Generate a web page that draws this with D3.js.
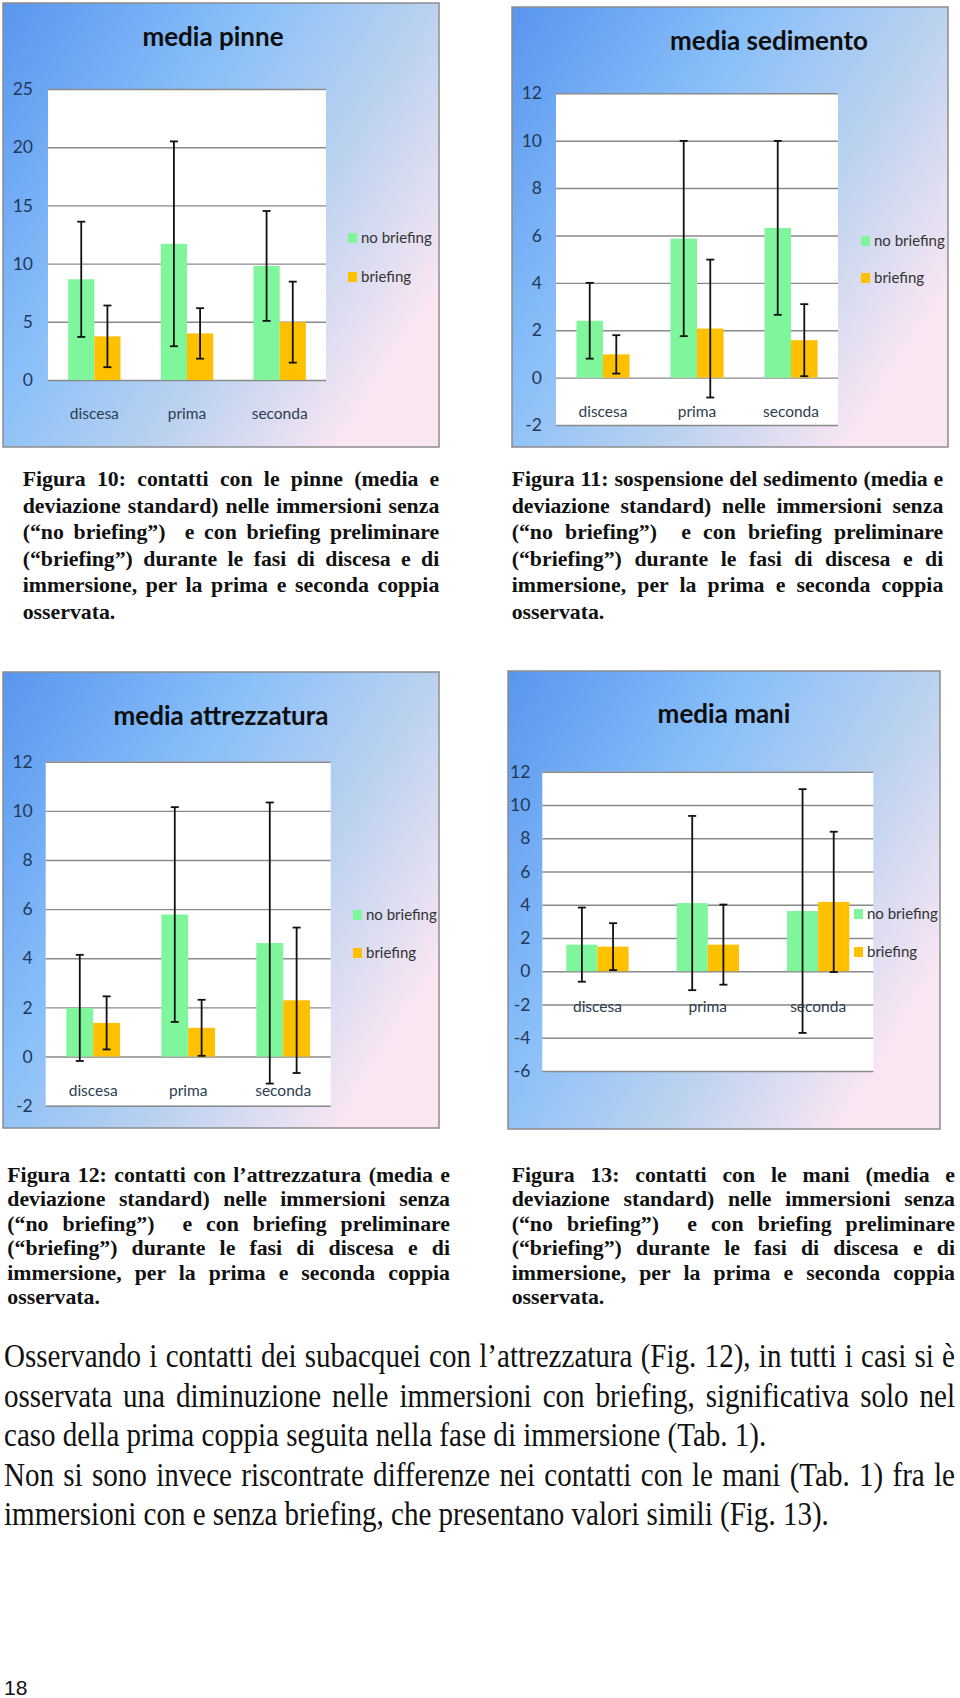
<!DOCTYPE html>
<html><head><meta charset="utf-8">
<script src="https://cdn.jsdelivr.net/npm/d3@7"></script>
<style>
html,body{margin:0;padding:0;background:#fff;}
svg{display:block;}
</style></head><body>
<svg id="page" width="960" height="1698"></svg>
<script>
// ---------- DATA ----------
const categories = ["discesa", "prima", "seconda"];
const seriesNames = ["no briefing", "briefing"];

const pinneTitle = "media pinne";
const pinneNoBriefing = [8.65, 11.7, 9.8];
const pinneNoBriefingSD = [4.95, 8.8, 4.72];
const pinneBriefing = [3.75, 4.0, 4.97];
const pinneBriefingSD = [2.65, 2.17, 3.48];
const pinneTicks = [0, 5, 10, 15, 20, 25];

const sedimentoTitle = "media sedimento";
const sedimentoNoBriefing = [2.4, 5.87, 6.32];
const sedimentoNoBriefingSD = [1.6, 4.12, 3.67];
const sedimentoBriefing = [0.98, 2.07, 1.58];
const sedimentoBriefingSD = [0.81, 2.91, 1.52];
const sedimentoTicks = [-2, 0, 2, 4, 6, 8, 10, 12];

const attrezzaturaTitle = "media attrezzatura";
const attrezzaturaNoBriefing = [1.98, 5.78, 4.62];
const attrezzaturaNoBriefingSD = [2.16, 4.37, 5.72];
const attrezzaturaBriefing = [1.37, 1.17, 2.29];
const attrezzaturaBriefingSD = [1.08, 1.14, 2.96];
const attrezzaturaTicks = [-2, 0, 2, 4, 6, 8, 10, 12];

const maniTitle = "media mani";
const maniNoBriefing = [1.6, 4.1, 3.62];
const maniNoBriefingSD = [2.23, 5.24, 7.33];
const maniBriefing = [1.48, 1.6, 4.17];
const maniBriefingSD = [1.41, 2.41, 4.22];
const maniTicks = [-6, -4, -2, 0, 2, 4, 6, 8, 10, 12];

const captionTail = [
  "deviazione standard) nelle immersioni senza",
  "(\u201cno briefing\u201d)  e con briefing preliminare",
  "(\u201cbriefing\u201d) durante le fasi di discesa e di",
  "immersione, per la prima e seconda coppia",
  "osservata."
];
const caption10 = ["Figura 10: contatti con le pinne (media e"].concat(captionTail);
const caption11 = ["Figura 11: sospensione del sedimento (media e"].concat(captionTail);
const caption12 = ["Figura 12: contatti con l\u2019attrezzatura (media e"].concat(captionTail);
const caption13 = ["Figura 13: contatti con le mani (media e"].concat(captionTail);

const bodyLines = [
  "Osservando i contatti dei subacquei con l\u2019attrezzatura (Fig. 12), in tutti i casi si \u00e8",
  "osservata una diminuzione nelle immersioni con briefing, significativa solo nel",
  "caso della prima coppia seguita nella fase di immersione (Tab. 1).",
  "Non si sono invece riscontrate differenze nei contatti con le mani (Tab. 1) fra le",
  "immersioni con e senza briefing, che presentano valori simili (Fig. 13)."
];
const bodyJustified = [true, true, false, true, false];
const pageNumber = "18";

// ---------- STYLE ----------
const GREEN = "#7ff69c", GOLD = "#ffc000";
const CHART_FONT = "Lato, 'Open Sans', sans-serif";
const SERIF = "'Liberation Serif', 'Times New Roman', serif";

const svg = d3.select("#page");
const defs = svg.append("defs");
const grad = defs.append("linearGradient").attr("id", "bg")
  .attr("x1", 0).attr("y1", 0).attr("x2", 1).attr("y2", 0.65);
[[0, "#5896ef"], [0.4, "#89bff9"], [0.7, "#bad2ef"], [1, "#fae6f3"]].forEach(s =>
  grad.append("stop").attr("offset", s[0]).attr("stop-color", s[1]));

function drawChart(cfg) {
  const g = svg.append("g");
  const [fx0, fy0, fx1, fy1] = cfg.frame;
  g.append("rect").attr("x", fx0).attr("y", fy0)
    .attr("width", fx1 - fx0).attr("height", fy1 - fy0)
    .attr("fill", "url(#bg)").attr("stroke", "#8c8c8c").attr("stroke-width", 1.5);

  const [px0, py0, px1, py1] = cfg.plot;
  const y = d3.scaleLinear().domain(d3.extent(cfg.ticks)).range([py1, py0]);
  const x0 = d3.scaleBand().domain(categories).range([px0, px1])
    .paddingInner(0.435).paddingOuter(0.2175);
  const x1 = d3.scaleBand().domain(seriesNames).range([0, x0.bandwidth()]);

  g.append("rect").attr("x", px0).attr("y", py0)
    .attr("width", px1 - px0).attr("height", py1 - py0).attr("fill", "#fff");

  const axis = d3.axisLeft(y).tickValues(cfg.ticks).tickFormat(d => String(d))
    .tickSizeInner(-(px1 - px0)).tickSizeOuter(0).tickPadding(cfg.tickPad);
  const ax = g.append("g").attr("transform", `translate(${px0},0)`).call(axis);
  ax.select(".domain").remove();
  ax.selectAll(".tick line").attr("stroke", "#8a8a8a").attr("stroke-width", 1.4);
  ax.selectAll(".tick text").attr("font-family", CHART_FONT).attr("font-size", 17.5)
    .attr("fill", "#22395a");

  const rows = categories.map((c, i) => ({
    cat: c,
    vals: [
      { s: seriesNames[0], v: cfg.noB[i], sd: cfg.noBsd[i], color: GREEN },
      { s: seriesNames[1], v: cfg.b[i], sd: cfg.bsd[i], color: GOLD }
    ]
  }));

  const grp = g.selectAll(".grp").data(rows).join("g")
    .attr("transform", d => `translate(${x0(d.cat)},0)`);
  grp.selectAll("rect").data(d => d.vals).join("rect")
    .attr("x", d => x1(d.s)).attr("width", x1.bandwidth())
    .attr("y", d => y(Math.max(0, d.v))).attr("height", d => Math.abs(y(d.v) - y(0)))
    .attr("fill", d => d.color);

  const eb = grp.selectAll(".eb").data(d => d.vals).join("g")
    .attr("transform", d => `translate(${x1(d.s) + x1.bandwidth() / 2},0)`)
    .attr("stroke", "#111").attr("stroke-width", 1.8);
  eb.append("line").attr("x1", 0).attr("x2", 0)
    .attr("y1", d => y(d.v + d.sd)).attr("y2", d => y(d.v - d.sd));
  eb.append("line").attr("x1", -4).attr("x2", 4)
    .attr("y1", d => y(d.v + d.sd)).attr("y2", d => y(d.v + d.sd));
  eb.append("line").attr("x1", -4).attr("x2", 4)
    .attr("y1", d => y(d.v - d.sd)).attr("y2", d => y(d.v - d.sd));

  g.selectAll(".cat").data(categories).join("text")
    .attr("x", d => x0(d) + x0.bandwidth() / 2).attr("y", cfg.catY)
    .attr("text-anchor", "middle").attr("font-family", CHART_FONT).attr("font-size", 15.5)
    .attr("fill", "#2e3d50").text(d => d);

  g.append("text").attr("x", cfg.titleX).attr("y", cfg.titleY)
    .attr("text-anchor", "middle").attr("font-family", CHART_FONT).attr("font-weight", 700)
    .attr("font-size", 26).attr("fill", "#0e0e0e").text(cfg.title);

  const leg = g.selectAll(".leg").data(seriesNames).join("g")
    .attr("transform", (d, i) => `translate(${cfg.legX},${cfg.legY[i]})`);
  leg.append("rect").attr("x", 0).attr("y", -5).attr("width", 9).attr("height", 10)
    .attr("fill", (d, i) => i === 0 ? GREEN : GOLD);
  leg.append("text").attr("x", 13).attr("y", 0).attr("dy", "0.35em")
    .attr("font-family", CHART_FONT).attr("font-size", 15).attr("fill", "#333")
    .text(d => d);
}

drawChart({ title: pinneTitle, ticks: pinneTicks,
  noB: pinneNoBriefing, noBsd: pinneNoBriefingSD, b: pinneBriefing, bsd: pinneBriefingSD,
  frame: [3, 3, 439, 447], plot: [48, 89, 326, 380], tickPad: 15,
  titleX: 213, titleY: 46, catY: 419, legX: 348, legY: [238, 277] });
drawChart({ title: sedimentoTitle, ticks: sedimentoTicks,
  noB: sedimentoNoBriefing, noBsd: sedimentoNoBriefingSD, b: sedimentoBriefing, bsd: sedimentoBriefingSD,
  frame: [512, 7, 948, 447], plot: [556, 93.3, 838, 425], tickPad: 14,
  titleX: 769, titleY: 50, catY: 417, legX: 861, legY: [241, 278] });
drawChart({ title: attrezzaturaTitle, ticks: attrezzaturaTicks,
  noB: attrezzaturaNoBriefing, noBsd: attrezzaturaNoBriefingSD, b: attrezzaturaBriefing, bsd: attrezzaturaBriefingSD,
  frame: [3, 672, 439, 1128], plot: [45.7, 761.7, 330.7, 1105.7], tickPad: 13,
  titleX: 221, titleY: 725, catY: 1096, legX: 353, legY: [915, 953] });
drawChart({ title: maniTitle, ticks: maniTicks,
  noB: maniNoBriefing, noBsd: maniNoBriefingSD, b: maniBriefing, bsd: maniBriefingSD,
  frame: [508, 671, 940, 1129], plot: [542.3, 771.7, 873.3, 1071], tickPad: 12,
  titleX: 724, titleY: 723, catY: 1012, legX: 854, legY: [914, 952] });

// ---------- TEXT ----------
function paragraph(lines, justified, x, right, y0, pitch, size, weight, sx) {
  const g = svg.append("g").attr("transform", `translate(${x},0) scale(${sx},1)`);
  const width = (right - x) / sx;
  lines.forEach((t, i) => {
    const el = g.append("text").attr("x", 0).attr("y", y0 + i * pitch)
      .attr("font-family", SERIF).attr("font-size", size).attr("font-weight", weight)
      .attr("fill", "#111").style("white-space", "pre").text(t);
    if (justified[i]) {
      const nat = el.node().getComputedTextLength();
      const gaps = (t.match(/ /g) || []).length;
      if (gaps > 0) el.style("word-spacing", ((width - nat) / gaps) + "px");
    }
  });
}
const capJust = [true, true, true, true, true, false];
paragraph(caption10, capJust, 22.7, 439.3, 486, 26.6, 21.8, 700, 1);
paragraph(caption11, capJust, 511.7, 943.3, 486, 26.6, 21.8, 700, 1);
paragraph(caption12, capJust, 7.3, 450, 1181.5, 24.5, 21.8, 700, 1);
paragraph(caption13, capJust, 511.7, 955, 1181.5, 24.5, 21.8, 700, 1);

// body: measure condensation so justified lines fit
(function () {
  const size = 33;
  const tmp = svg.append("text").attr("font-family", SERIF).attr("font-size", size)
    .style("white-space", "pre");
  let s = 0.88;
  bodyLines.forEach((t, i) => {
    if (!bodyJustified[i]) return;
    tmp.text(t);
    s = Math.min(s, 951 / tmp.node().getComputedTextLength() * 0.99);
  });
  tmp.remove();
  paragraph(bodyLines, bodyJustified, 4, 955, 1367, 39.6, size, 400, s);
})();

svg.append("text").attr("x", 4).attr("y", 1695)
  .attr("font-family", "'Liberation Sans', Arial, sans-serif").attr("font-size", 21)
  .attr("fill", "#111").text(pageNumber);
</script>
</body></html>
